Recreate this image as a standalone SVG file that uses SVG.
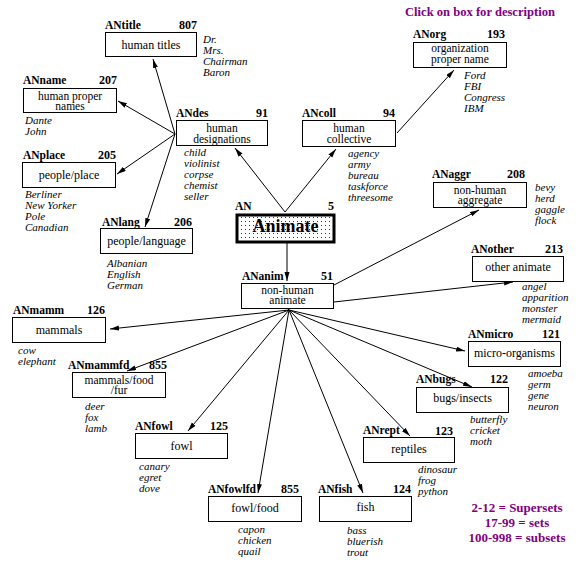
<svg xmlns="http://www.w3.org/2000/svg" width="580" height="584" viewBox="0 0 580 584">
<style>
.box{fill:#fff;stroke:#000;stroke-width:1}
.lbl{font-family:"Liberation Serif",serif;font-size:11.5px;font-weight:bold;fill:#000}
.num{font-family:"Liberation Serif",serif;font-size:12px;font-weight:bold;text-anchor:end;fill:#000}
.t{font-family:"Liberation Serif",serif;font-size:12px;text-anchor:middle;fill:#000}
.t2{font-family:"Liberation Serif",serif;font-size:11.5px;text-anchor:middle;fill:#000}
.ex{font-family:"Liberation Serif",serif;font-size:11px;font-style:italic;fill:#000}
.pur{font-family:"Liberation Serif",serif;font-size:13px;font-weight:bold;fill:#800080}
.ln{stroke:#000;stroke-width:1;fill:none;marker-end:url(#ah)}
</style>
<defs>
<marker id="ah" markerUnits="userSpaceOnUse" markerWidth="10" markerHeight="6" refX="9" refY="2.5" orient="auto">
<path d="M0,0 L9,2.5 L0,5 Z" fill="#000"/>
</marker>
<pattern id="dots" width="4" height="4" patternUnits="userSpaceOnUse">
<rect width="4" height="4" fill="#fff"/>
<rect x="1" y="1" width="1" height="1" fill="#333"/>
</pattern>
</defs>
<rect width="580" height="584" fill="#fff"/>
<text class="pur" x="405" y="15.5" textLength="150" lengthAdjust="spacingAndGlyphs">Click on box for description</text>

<g id="connectors">
<line class="ln" x1="285" y1="212" x2="235" y2="148"/>
<line class="ln" x1="285" y1="212" x2="336" y2="149"/>
<line class="ln" x1="287" y1="243" x2="287" y2="281"/>
<line class="ln" x1="175" y1="134" x2="153" y2="59"/>
<line class="ln" x1="175" y1="134" x2="118" y2="101"/>
<line class="ln" x1="175" y1="134" x2="117" y2="174"/>
<line class="ln" x1="175" y1="134" x2="145" y2="227"/>
<line class="ln" x1="397" y1="133" x2="454" y2="70"/>
<line class="ln" x1="334" y1="285" x2="479" y2="210"/>
<line class="ln" x1="334" y1="302" x2="513" y2="282"/>
<line x1="288" y1="309" x2="289" y2="310" stroke="#000"/>
<line class="ln" x1="289" y1="310" x2="110" y2="329"/>
<line class="ln" x1="289" y1="310" x2="127" y2="371"/>
<line class="ln" x1="289" y1="310" x2="188" y2="431"/>
<line class="ln" x1="289" y1="310" x2="258" y2="493"/>
<line class="ln" x1="289" y1="310" x2="363" y2="493"/>
<line class="ln" x1="289" y1="310" x2="410" y2="436"/>
<line class="ln" x1="289" y1="310" x2="472" y2="387"/>
<line class="ln" x1="289" y1="310" x2="465" y2="351"/>
</g>

<g id="ANtitle">
<rect class="box" x="105.5" y="32.5" width="91" height="24"/>
<text class="lbl" x="105" y="29">ANtitle</text>
<text class="num" x="197" y="29">807</text>
<text class="t" x="151" y="48.5">human titles</text>
<text class="ex" x="203" y="43">Dr.</text>
<text class="ex" x="203" y="54">Mrs.</text>
<text class="ex" x="203" y="65">Chairman</text>
<text class="ex" x="203" y="76">Baron</text>
</g>

<g id="ANname">
<rect class="box" x="23.5" y="88.5" width="93" height="24"/>
<text class="lbl" x="23" y="84">ANname</text>
<text class="num" x="117" y="84">207</text>
<text class="t2" x="70" y="99.5">human proper<tspan x="70" dy="10.5">names</tspan></text>
<text class="ex" x="25" y="124">Dante</text>
<text class="ex" x="25" y="135">John</text>
</g>

<g id="ANdes">
<rect class="box" x="176.5" y="120.5" width="91" height="25"/>
<text class="lbl" x="176" y="116.5">ANdes</text>
<text class="num" x="268" y="116.5">91</text>
<text class="t2" x="222" y="132">human<tspan x="222" dy="10.5">designations</tspan></text>
<text class="ex" x="184" y="156">child</text>
<text class="ex" x="184" y="167">violinist</text>
<text class="ex" x="184" y="178">corpse</text>
<text class="ex" x="184" y="189">chemist</text>
<text class="ex" x="184" y="200">seller</text>
</g>

<g id="ANplace">
<rect class="box" x="22.5" y="162.5" width="93" height="25"/>
<text class="lbl" x="23" y="158.5">ANplace</text>
<text class="num" x="116" y="158.5">205</text>
<text class="t" x="69" y="178.5">people/place</text>
<text class="ex" x="25" y="198">Berliner</text>
<text class="ex" x="25" y="209">New Yorker</text>
<text class="ex" x="25" y="220">Pole</text>
<text class="ex" x="25" y="231">Canadian</text>
</g>

<g id="ANlang">
<rect class="box" x="100.5" y="228.5" width="92" height="25"/>
<text class="lbl" x="102" y="225.5">ANlang</text>
<text class="num" x="192" y="225.5">206</text>
<text class="t" x="146.5" y="244.5">people/language</text>
<text class="ex" x="107" y="267">Albanian</text>
<text class="ex" x="107" y="278">English</text>
<text class="ex" x="107" y="289">German</text>
</g>

<g id="AN">
<rect x="237" y="215" width="97" height="27" fill="url(#dots)" stroke="#000" stroke-width="3"/>
<text class="lbl" x="235" y="209.5">AN</text>
<text class="num" x="334" y="209.5">5</text>
<text x="285.5" y="232" text-anchor="middle" font-family="Liberation Serif, serif" font-size="18" font-weight="bold">Animate</text>
</g>

<g id="ANanim">
<rect class="box" x="241.5" y="283.5" width="92" height="25"/>
<text class="lbl" x="242" y="280">ANanim</text>
<text class="num" x="333" y="280">51</text>
<text class="t2" x="287.5" y="293.5">non-human<tspan x="287.5" dy="10.5">animate</tspan></text>
</g>

<g id="ANcoll">
<rect class="box" x="302.5" y="120.5" width="93" height="26"/>
<text class="lbl" x="302" y="116.5">ANcoll</text>
<text class="num" x="395" y="116.5">94</text>
<text class="t2" x="349" y="132">human<tspan x="349" dy="10.5">collective</tspan></text>
<text class="ex" x="348" y="157">agency</text>
<text class="ex" x="348" y="168">army</text>
<text class="ex" x="348" y="179">bureau</text>
<text class="ex" x="348" y="190">taskforce</text>
<text class="ex" x="348" y="201">threesome</text>
</g>

<g id="ANorg">
<rect class="box" x="413.5" y="42.5" width="93" height="25"/>
<text class="lbl" x="413" y="38">ANorg</text>
<text class="num" x="505" y="38">193</text>
<text class="t2" x="460" y="52">organization<tspan x="460" dy="10.5">proper name</tspan></text>
<text class="ex" x="464" y="79">Ford</text>
<text class="ex" x="464" y="90">FBI</text>
<text class="ex" x="464" y="101">Congress</text>
<text class="ex" x="464" y="112">IBM</text>
</g>

<g id="ANaggr">
<rect class="box" x="433.5" y="182.5" width="93" height="25"/>
<text class="lbl" x="432" y="178">ANaggr</text>
<text class="num" x="525" y="178">208</text>
<text class="t2" x="480" y="193.5">non-human<tspan x="480" dy="10.5">aggregate</tspan></text>
<text class="ex" x="535" y="191">bevy</text>
<text class="ex" x="535" y="202">herd</text>
<text class="ex" x="535" y="213">gaggle</text>
<text class="ex" x="535" y="224">flock</text>
</g>

<g id="ANother">
<rect class="box" x="472.5" y="256.5" width="91" height="25"/>
<text class="lbl" x="471" y="252.5">ANother</text>
<text class="num" x="563" y="252.5">213</text>
<text class="t" x="518" y="271">other animate</text>
<text class="ex" x="522" y="290">angel</text>
<text class="ex" x="522" y="301">apparition</text>
<text class="ex" x="522" y="312">monster</text>
<text class="ex" x="522" y="323">mermaid</text>
</g>

<g id="ANmamm">
<rect class="box" x="12.5" y="317.5" width="93" height="25"/>
<text class="lbl" x="13" y="314">ANmamm</text>
<text class="num" x="105" y="314">126</text>
<text class="t" x="59" y="333.5">mammals</text>
<text class="ex" x="18" y="354">cow</text>
<text class="ex" x="18" y="365">elephant</text>
</g>

<g id="ANmammfd">
<rect class="box" x="72.5" y="372.5" width="93" height="25"/>
<text class="lbl" x="68" y="368.5">ANmammfd</text>
<text class="num" x="167" y="368.5">855</text>
<text class="t2" x="119" y="383.5">mammals/food<tspan x="119" dy="10.5">/fur</tspan></text>
<text class="ex" x="85" y="410">deer</text>
<text class="ex" x="85" y="421">fox</text>
<text class="ex" x="85" y="432">lamb</text>
</g>

<g id="ANfowl">
<rect class="box" x="135.5" y="433.5" width="92" height="25"/>
<text class="lbl" x="135" y="430">ANfowl</text>
<text class="num" x="228" y="430">125</text>
<text class="t" x="181.5" y="450">fowl</text>
<text class="ex" x="139" y="470">canary</text>
<text class="ex" x="139" y="481">egret</text>
<text class="ex" x="139" y="492">dove</text>
</g>

<g id="ANfowlfd">
<rect class="box" x="208.5" y="496.5" width="93" height="25"/>
<text class="lbl" x="208" y="493">ANfowlfd</text>
<text class="num" x="299" y="493">855</text>
<text class="t" x="255" y="511.5">fowl/food</text>
<text class="ex" x="238" y="533">capon</text>
<text class="ex" x="238" y="544">chicken</text>
<text class="ex" x="238" y="555">quail</text>
</g>

<g id="ANfish">
<rect class="box" x="319.5" y="496.5" width="92" height="25"/>
<text class="lbl" x="318" y="493">ANfish</text>
<text class="num" x="411" y="493">124</text>
<text class="t" x="365.5" y="511">fish</text>
<text class="ex" x="347" y="534">bass</text>
<text class="ex" x="347" y="545">bluerish</text>
<text class="ex" x="347" y="556">trout</text>
</g>

<g id="ANrept">
<rect class="box" x="363.5" y="437.5" width="91" height="25"/>
<text class="lbl" x="363" y="434">ANrept</text>
<text class="num" x="453" y="434.5">123</text>
<text class="t" x="409" y="453">reptiles</text>
<text class="ex" x="418" y="472.5">dinosaur</text>
<text class="ex" x="418" y="483.5">frog</text>
<text class="ex" x="418" y="494.5">python</text>
</g>

<g id="ANbugs">
<rect class="box" x="416.5" y="387.5" width="92" height="25"/>
<text class="lbl" x="416" y="383">ANbugs</text>
<text class="num" x="508" y="383">122</text>
<text class="t" x="462.5" y="402">bugs/insects</text>
<text class="ex" x="470" y="423">butterfly</text>
<text class="ex" x="470" y="434">cricket</text>
<text class="ex" x="470" y="445">moth</text>
</g>

<g id="ANmicro">
<rect class="box" x="468.5" y="341.5" width="92" height="25"/>
<text class="lbl" x="468" y="337.5">ANmicro</text>
<text class="num" x="560" y="337.5">121</text>
<text class="t" x="514.5" y="357">micro-organisms</text>
<text class="ex" x="528" y="377">amoeba</text>
<text class="ex" x="528" y="388">germ</text>
<text class="ex" x="528" y="399">gene</text>
<text class="ex" x="528" y="410">neuron</text>
</g>

<g id="legend">
<text class="pur" x="517" y="512" text-anchor="middle">2-12 = Supersets</text>
<text class="pur" x="517" y="527" text-anchor="middle">17-99 = sets</text>
<text class="pur" x="517" y="542" text-anchor="middle">100-998 = subsets</text>
</g>
</svg>
